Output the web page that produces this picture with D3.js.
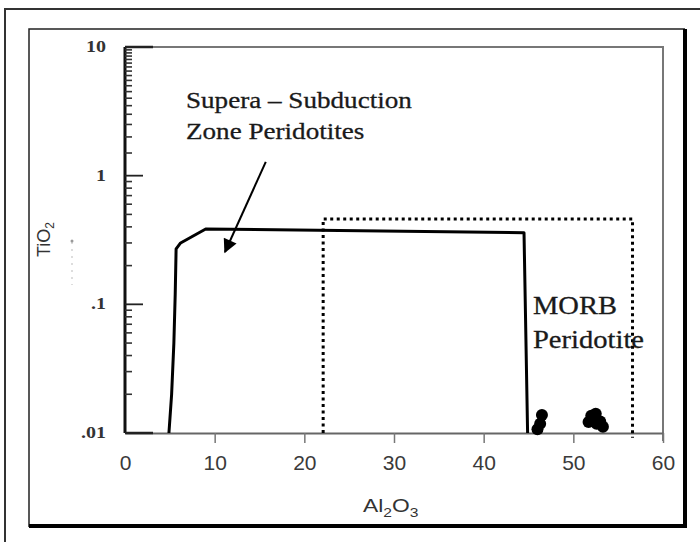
<!DOCTYPE html>
<html>
<head>
<meta charset="utf-8">
<script src="https://cdn.jsdelivr.net/npm/d3@7"></script>
<style>
  body { margin: 0; background: #fff; }
  svg { display: block; }
</style>
</head>
<body>
<svg id="chart" width="700" height="542"></svg>
<script>
// values
const xTicks = [0, 10, 20, 30, 40, 50, 60];
const yTicks = [0.01, 0.1, 1, 10];
const yTickLabels = [".01", ".1", "1", "10"];

// supra-subduction zone field (Al2O3, TiO2)
const ssz = [[4.9, 0.01], [5.2, 0.02], [5.45, 0.05], [5.6, 0.12], [5.7, 0.27], [6.2, 0.3],
             [9.0, 0.385], [44.5, 0.36], [44.9, 0.01]];
// MORB peridotite field (dotted)
const morb = [[22.1, 0.01], [22.1, 0.46], [56.6, 0.46], [56.6, 0.0092]];
// samples
const samples = [[46.5, 0.0138], [46.3, 0.0118], [46.0, 0.0107],
                 [52.0, 0.0136], [52.5, 0.0141], [53.0, 0.0123],
                 [51.7, 0.0122], [53.3, 0.0112], [52.6, 0.0118]];

const svg = d3.select("#chart");

const x = d3.scaleLinear().domain([0, 60]).range([125, 663]);
const y = d3.scaleLog().domain([0.01, 10]).range([433, 47]);

// frames
svg.append("path")
    .attr("d", "M5,545V9H705")
    .attr("fill", "none").attr("stroke", "#333").attr("stroke-width", 2);
svg.append("path")
    .attr("d", "M29,527V29H685")
    .attr("fill", "none").attr("stroke", "#222").attr("stroke-width", 1.5);
svg.append("path")
    .attr("d", "M685,29V526H29")
    .attr("fill", "none").attr("stroke", "#000").attr("stroke-width", 4);

const plot = svg.append("g");

// top + right border of plot area
plot.append("path")
    .attr("d", `M${x(0)},${y(10)}H${x(60)}V${y(0.01) + 8}`)
    .attr("fill", "none").attr("stroke", "#777").attr("stroke-width", 2);

// x axis
const xAxis = plot.append("g")
    .attr("transform", `translate(0,${y(0.01)})`)
    .call(d3.axisBottom(x).tickValues(xTicks).tickSize(10).tickPadding(12).tickSizeOuter(0));
xAxis.select(".domain").attr("stroke", "#666").attr("stroke-width", 2);
xAxis.selectAll(".tick line").attr("stroke", "#777").attr("stroke-width", 1.5)
    .filter(d => d === 0).remove();
xAxis.selectAll(".tick text")
    .attr("font-family", "Liberation Sans, Arial, sans-serif")
    .attr("font-size", 21).attr("fill", "#3a3a3a");

// y axis: heavy line with minor ticks pointing in
const minor = [];
for (let e = -2; e < 1; e++) {
    const base = Math.pow(10, e);
    const steps = e === 0 ? d3.range(1.5, 10, 0.5) : d3.range(2, 10);
    steps.forEach(m => minor.push(m * base));
}
const yAxis = plot.append("g")
    .attr("transform", `translate(${x(0)},0)`);
yAxis.append("line")
    .attr("y1", y(10)).attr("y2", y(0.01))
    .attr("stroke", "#111").attr("stroke-width", 3);
yAxis.selectAll(".minor").data(minor).join("line")
    .attr("class", "minor")
    .attr("x1", 0).attr("x2", 7)
    .attr("y1", d => y(d)).attr("y2", d => y(d))
    .attr("stroke", "#333").attr("stroke-width", 1.6);
yAxis.selectAll(".major").data(yTicks).join("line")
    .attr("class", "major")
    .attr("x1", 0).attr("x2", (d, i) => (i === 0 || i === yTicks.length - 1) ? 28 : 18)
    .attr("y1", d => y(d)).attr("y2", d => y(d))
    .attr("stroke", "#222").attr("stroke-width", (d, i) => (i === 0 || i === yTicks.length - 1) ? 2.5 : 1.8);
yAxis.selectAll(".lab").data(yTicks).join("text")
    .attr("class", "lab")
    .attr("transform", d => `translate(-19,${y(d) + 5}) scale(1.25,1)`)
    .attr("text-anchor", "end")
    .attr("font-family", "Liberation Serif, Times New Roman, serif")
    .attr("font-weight", "bold").attr("font-size", 16).attr("fill", "#333")
    .text((d, i) => yTickLabels[i]);

// axis titles
const xt = svg.append("text")
    .attr("transform", "translate(363,512) scale(1.2,1)")
    .attr("font-family", "Liberation Sans, Arial, sans-serif")
    .attr("font-size", 19).attr("fill", "#333");
xt.append("tspan").text("Al");
xt.append("tspan").attr("font-size", 13).attr("dy", 5).text("2");
xt.append("tspan").attr("dy", -5).text("O");
xt.append("tspan").attr("font-size", 13).attr("dy", 5).text("3");

const yt = svg.append("text")
    .attr("transform", "translate(50,257) rotate(-90)")
    .attr("font-family", "Liberation Sans, Arial, sans-serif")
    .attr("font-size", 18).attr("fill", "#333");
yt.append("tspan").text("TiO");
yt.append("tspan").attr("font-size", 12).attr("dy", 4).text("2");
svg.append("line")
    .attr("x1", 72).attr("x2", 72).attr("y1", 242).attr("y2", 285)
    .attr("stroke", "#bbb").attr("stroke-width", 1).attr("stroke-dasharray", "2,5");
svg.append("circle").attr("cx", 72).attr("cy", 241).attr("r", 1.5).attr("fill", "#999");

// fields
const line = d3.line().x(d => x(d[0])).y(d => y(d[1]));
plot.append("path")
    .attr("d", line(morb))
    .attr("fill", "none").attr("stroke", "#000").attr("stroke-width", 3)
    .attr("stroke-dasharray", "3,3.5");
plot.append("path")
    .attr("d", line(ssz))
    .attr("fill", "none").attr("stroke", "#000").attr("stroke-width", 3)
    .attr("stroke-linejoin", "round");

// samples
plot.selectAll(".pt").data(samples).join("circle")
    .attr("class", "pt")
    .attr("cx", d => x(d[0])).attr("cy", d => y(d[1]))
    .attr("r", 6).attr("fill", "#000");

// annotations
const serif = "Liberation Serif, Times New Roman, serif";
const annot = [
    { t: "Supera \u2013 Subduction", x: 6.8, y: 3.36, size: 24, sx: 1.13 },
    { t: "Zone Peridotites", x: 6.8, y: 1.93, size: 24, sx: 1.13 },
    { t: "MORB", x: 45.5, y: 0.084, size: 25.5, sx: 1.12 },
    { t: "Peridotite", x: 45.5, y: 0.0458, size: 25.5, sx: 1.12 }
];
plot.selectAll(".annot").data(annot).join("text")
    .attr("class", "annot")
    .attr("transform", d => `translate(${x(d.x)},${y(d.y)}) scale(${d.sx},1)`)
    .attr("font-family", serif).attr("font-size", d => d.size)
    .attr("fill", "#1a1a1a").attr("stroke", "#1a1a1a").attr("stroke-width", 0.3)
    .text(d => d.t);

// arrow
svg.append("defs").append("marker")
    .attr("id", "head").attr("viewBox", "0 0 10 10")
    .attr("refX", 9).attr("refY", 5)
    .attr("markerWidth", 8).attr("markerHeight", 7).attr("markerUnits", "strokeWidth")
    .attr("orient", "auto")
    .append("path").attr("d", "M0,0L10,5L0,10Z").attr("fill", "#000");
plot.append("line")
    .attr("x1", x(15.7)).attr("y1", y(1.28))
    .attr("x2", x(11.15)).attr("y2", y(0.255))
    .attr("stroke", "#000").attr("stroke-width", 2)
    .attr("marker-end", "url(#head)");
</script>
</body>
</html>
